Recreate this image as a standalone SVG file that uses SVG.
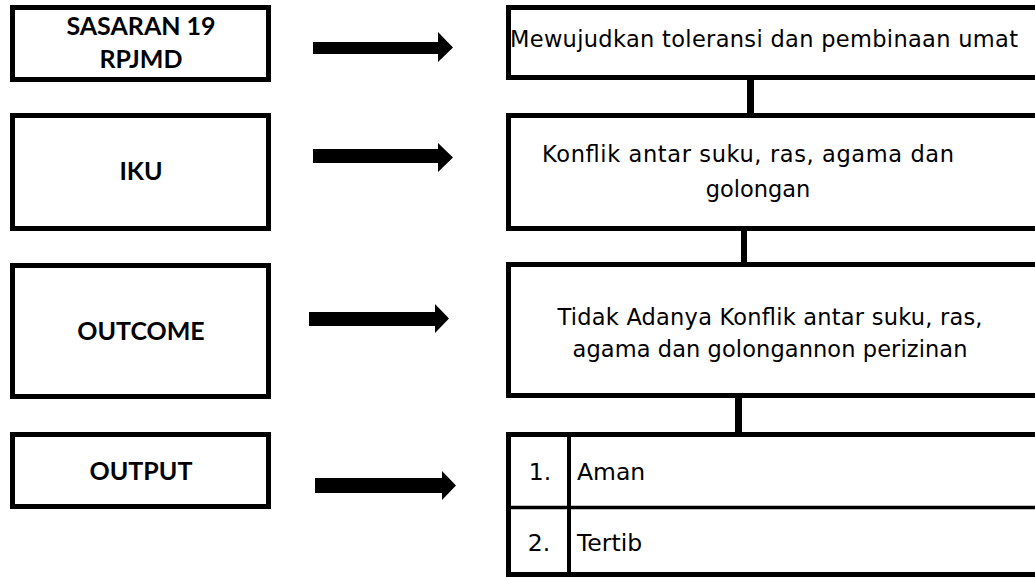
<svg xmlns="http://www.w3.org/2000/svg" width="1035" height="577" viewBox="0 0 1035 577">
<style>
.box{fill:#fff;stroke:#000;stroke-width:5}
.lt{font-family:Lato,"Liberation Sans",sans-serif;font-size:25px;font-weight:bold;text-anchor:middle;fill:#000}
.rt{font-family:"DejaVu Sans","Liberation Sans",sans-serif;font-size:22.5px;text-anchor:middle;fill:#000}
.tt{font-family:"DejaVu Sans","Liberation Sans",sans-serif;font-size:23.5px;fill:#000}
.bar{fill:#000}
.div{stroke:#000;fill:none}
</style>
<rect width="1035" height="577" fill="#fff"/>
<g id="sasaran">
<rect class="box" x="12.5" y="7.5" width="256" height="72"/>
<text class="lt" x="141" y="35">SASARAN 19</text>
<text class="lt" x="141" y="68">RPJMD</text>
</g>
<g id="iku">
<rect class="box" x="12.5" y="115.5" width="256" height="113"/>
<text class="lt" x="141" y="180">IKU</text>
</g>
<g id="outcome">
<rect class="box" x="12.5" y="265.5" width="256" height="131"/>
<text class="lt" x="141" y="340">OUTCOME</text>
</g>
<g id="output">
<rect class="box" x="12.5" y="434.5" width="256" height="72"/>
<text class="lt" x="141" y="480">OUTPUT</text>
</g>
<g id="tujuan">
<rect class="box" x="508.5" y="7.5" width="540" height="70"/>
<text class="rt" x="764" y="47" textLength="508">Mewujudkan toleransi dan pembinaan umat</text>
</g>
<g id="indikator">
<rect class="box" x="508.5" y="115.5" width="540" height="113"/>
<text class="rt" x="748" y="162" textLength="412">Konflik antar suku, ras, agama dan</text>
<text class="rt" x="758" y="197">golongan</text>
</g>
<g id="hasil">
<rect class="box" x="508.5" y="264.5" width="540" height="131"/>
<text class="rt" x="770" y="325" textLength="425">Tidak Adanya Konflik antar suku, ras,</text>
<text class="rt" x="770" y="357" textLength="395">agama dan golongannon perizinan</text>
</g>
<g id="keluaran">
<rect class="box" x="508.5" y="434.5" width="540" height="140"/>
<line class="div" x1="569" y1="434" x2="569" y2="575" stroke-width="4"/>
<line class="div" x1="508" y1="507.5" x2="1040" y2="507.5" stroke-width="3.5"/>
<text class="tt" x="540" y="480" text-anchor="middle">1.</text>
<text class="tt" x="577" y="480">Aman</text>
<text class="tt" x="539" y="551" text-anchor="middle">2.</text>
<text class="tt" x="577" y="551">Tertib</text>
</g>
<g id="connectors">
<polygon class="bar" points="313,42 438,42 438,32 453,47.5 438,62 438,54 313,54"/>
<polygon class="bar" points="313,149 438,149 438,143 453,157.5 438,172 438,163 313,163"/>
<polygon class="bar" points="309,312 435,312 435,304 449,318.5 435,333 435,326 309,326"/>
<polygon class="bar" points="315,478 442,478 442,471 456,485.5 442,500 442,493 315,493"/>
<rect class="bar" x="747" y="79" width="7" height="35"/>
<rect class="bar" x="741" y="230" width="6" height="33"/>
<rect class="bar" x="735" y="397" width="7" height="36"/>
</g>
</svg>
